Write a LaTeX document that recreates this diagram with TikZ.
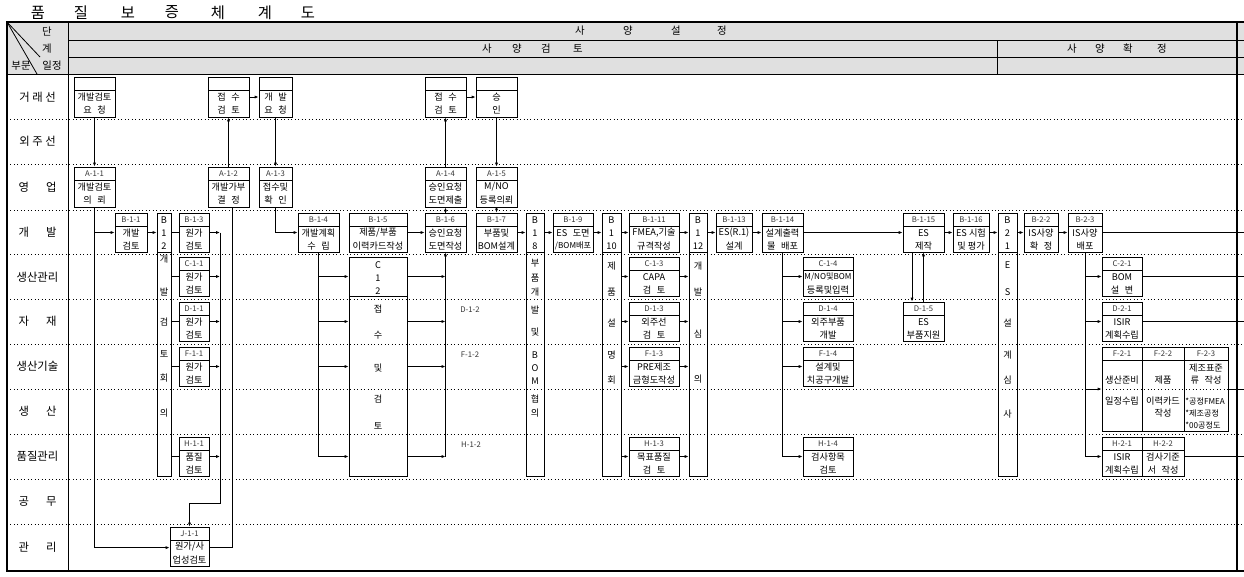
\documentclass[tikz,border=0pt]{standalone}
\usepackage{fontspec}
\setmainfont{Noto Sans CJK KR}
\usetikzlibrary{arrows.meta,fit,calc}
\newcommand\qgap{\hspace{0.6em}}
\newcommand\qsm{\fontsize{6.1}{6.5}\selectfont}
\tikzset{
 qbx/.style={draw, line width=0.6pt, inner sep=0pt},
 bt/.style={font=\fontsize{6.9}{7}\selectfont, inner sep=0pt},
 idt/.style={font=\fontsize{5.8}{6}\selectfont, inner sep=0pt, text=black!80},
 arr/.style={-{Latex[length=3pt,width=2.4pt]}, line width=0.6pt},
 ln/.style={line width=0.6pt},
 rowlab/.style={font=\fontsize{8.5}{9}\selectfont, inner sep=0pt},
 hl/.style={font=\fontsize{7.8}{8}\selectfont, inner sep=0pt},
 dotl/.style={dotted, line width=0.6pt}
}
\newcommand\qbox[8]{%
  \node[qbx, fit={(#2,#3) (#4,#5)}] (#1) {};
  \draw[ln] (#2,{#3+13}) -- (#4,{#3+13});
  \node[idt] (#1-id) at ({(#2+#4)/2},{#3+6.5}) {#6};
  \node[bt] (#1-a) at ({(#2+#4)/2},{#3+20}) {#7};
  \node[bt] (#1-b) at ({(#2+#4)/2},{#3+33}) {#8};
}
\begin{document}
\begin{tikzpicture}[x=0.75pt,y=-0.75pt]
\useasboundingbox (0,0) rectangle (1244,576);
% header
\fill[black!12] (7,22) rectangle (1244,74);
\draw[ln] (68,40) -- (1244,40);
\draw[ln] (68,57) -- (1244,57);
\draw[ln] (7,74) -- (1244,74);
\draw[ln] (997,40) -- (997,74);
\draw[ln] (68,22) -- (68,571);
\draw[ln] (7,22) -- (40,57);
\draw[ln] (7,22) -- (37,74);
\foreach \yy in {119,164,210,254,299,344,389,434,479,524}
  \draw[dotl] (7,\yy) -- (1244,\yy);
\draw[line width=2pt] (1244,22) -- (7,22) -- (7,571) -- (1244,571);
\draw[line width=1.2pt] (1237,22) -- (1237,571);
% title
\foreach \c/\xx [count=\i] in {품/38,질/81,보/128,증/172,체/218,계/265,도/308}
  \node[font=\fontsize{11.5}{12}\selectfont, inner sep=0pt] (title\i) at (\xx,12.5) {\c};
% header labels
\node[hl] (h-dan) at (47,31) {단};
\node[hl] (h-gye) at (47,49) {계};
\node[hl] (h-bm) at (21,66) {부문};
\node[hl] (h-ij) at (52,66) {일정};
\foreach \c/\xx [count=\i] in {사/580,양/628,설/676,정/722}
  \node[hl] (hs\i) at (\xx,31) {\c};
\foreach \c/\xx [count=\i] in {사/487,양/517,검/546,토/578}
  \node[hl] (hk\i) at (\xx,48.5) {\c};
\foreach \c/\xx [count=\i] in {사/1072,양/1100,확/1128,정/1162}
  \node[hl] (hh\i) at (\xx,48.5) {\c};
% row labels
\node[rowlab] (r1) at (37.5,97) {거 래 선};
\node[rowlab] (r2) at (37.5,141) {외 주 선};
\node[rowlab] (r3) at (37.5,187) {영\hspace{1.5em}업};
\node[rowlab] (r4) at (37.5,232) {개\hspace{1.5em}발};
\node[rowlab] (r5) at (37.5,277) {생산관리};
\node[rowlab] (r6) at (37.5,321) {자\hspace{1.5em}재};
\node[rowlab] (r7) at (37.5,366) {생산기술};
\node[rowlab] (r8) at (37.5,411) {생\hspace{1.5em}산};
\node[rowlab] (r9) at (37.5,456) {품질관리};
\node[rowlab] (r10) at (37.5,501) {공\hspace{1.5em}무};
\node[rowlab] (r11) at (37.5,547) {관\hspace{1.5em}리};
% customer row
\qbox{G1}{74}{77}{115}{117}{}{개발검토}{요\qgap 청}
\qbox{G2}{208}{77}{249}{117}{}{접\qgap 수}{검\qgap 토}
\qbox{G3}{259}{77}{292}{117}{}{개\qgap 발}{요\qgap 청}
\qbox{G4}{425}{77}{466}{117}{}{접\qgap 수}{검\qgap 토}
\qbox{G5}{476}{77}{517}{117}{}{승}{인}
% sales
\qbox{A11}{74}{167}{115}{207}{A-1-1}{개발검토}{의\qgap 뢰}
\qbox{A12}{208}{167}{249}{207}{A-1-2}{개발가부}{결\qgap 정}
\qbox{A13}{259}{167}{292}{207}{A-1-3}{접수및}{확\qgap 인}
\qbox{A14}{425}{167}{466}{207}{A-1-4}{승인요청}{도면제출}
\qbox{A15}{476}{167}{517}{207}{A-1-5}{M/NO}{등록의뢰}
% development
\qbox{B11}{115}{213}{147}{252}{B-1-1}{개발}{검토}
\qbox{B13}{179}{213}{209}{252}{B-1-3}{원가}{검토}
\qbox{B14}{298}{213}{339}{252}{B-1-4}{개발계획}{수\qgap 립}
\qbox{B15}{349}{213}{407}{252}{B-1-5}{제품/부품}{이력카드작성}
\qbox{B16}{425}{213}{466}{252}{B-1-6}{승인요청}{도면작성}
\qbox{B17}{476}{213}{517}{252}{B-1-7}{부품및}{BOM설계}
\qbox{B19}{553}{213}{593}{252}{B-1-9}{ES\qgap 도면}{\qsm /BOM배포}
\qbox{B111}{629}{213}{679}{252}{B-1-11}{FMEA,기술}{규격작성}
\qbox{B113}{716}{213}{752}{252}{B-1-13}{ES(R.1)}{설계}
\qbox{B114}{762}{213}{803}{252}{B-1-14}{설계출력}{물\qgap 배포}
\qbox{B115}{903}{213}{944}{252}{B-1-15}{ES}{제작}
\qbox{B116}{953}{213}{989}{252}{B-1-16}{ES 시험}{및 평가}
\qbox{B22}{1024}{213}{1058}{252}{B-2-2}{IS사양}{확\qgap 정}
\qbox{B23}{1068}{213}{1102}{252}{B-2-3}{IS사양}{배포}
% bars
\node[qbx, fit={(157,213) (171,476)}] (B12) {};
\draw[ln] (157,252) -- (171,252);
\foreach \t/\yy [count=\i] in {B/220,1/233,2/246,개/259,발/292,검/322,토/354,회/378,의/413}
  \node[bt] (B12-\i) at (164,\yy) {\t};
\node[qbx, fit={(526,213) (544,476)}] (B18) {};
\draw[ln] (526,252) -- (544,252);
\foreach \t/\yy [count=\i] in {B/220,1/233,8/246,부/263,품/278,개/292,발/310,및/332,B/355,O/368,M/381,협/399,의/413}
  \node[bt] (B18-\i) at (535,\yy) {\t};
\node[qbx, fit={(602,213) (621,476)}] (B110) {};
\draw[ln] (602,252) -- (621,252);
\foreach \t/\yy [count=\i] in {B/220,1/233,10/246,제/266,품/292,설/323,명/355,회/380}
  \node[bt] (B110-\i) at (611.5,\yy) {\t};
\node[qbx, fit={(689,213) (707,476)}] (B112) {};
\draw[ln] (689,252) -- (707,252);
\foreach \t/\yy [count=\i] in {B/220,1/233,12/246,개/266,발/292,심/334,의/379}
  \node[bt] (B112-\i) at (698,\yy) {\t};
\node[qbx, fit={(998,213) (1017,476)}] (B21) {};
\draw[ln] (998,252) -- (1017,252);
\foreach \t/\yy [count=\i] in {B/220,2/233,1/246,E/265,S/292,설/323,계/355,심/380,사/414}
  \node[bt] (B21-\i) at (1007.5,\yy) {\t};
\node[qbx, fit={(349,257) (407,476)}] (C12) {};
\draw[ln] (349,296) -- (407,296);
\foreach \t/\yy [count=\i] in {C/265,1/278,2/291,접/309,수/335,및/368,검/399,토/426}
  \node[bt] (C12-\i) at (378,\yy) {\t};
% production control
\qbox{C11}{179}{257}{209}{296}{C-1-1}{원가}{검토}
\qbox{C13}{629}{257}{679}{296}{C-1-3}{CAPA}{검\qgap 토}
\qbox{C14}{803}{257}{853}{296}{C-1-4}{\qsm M/NO및BOM}{등록및입력}
\qbox{C21}{1102}{257}{1142}{296}{C-2-1}{BOM}{설\qgap 변}
% materials
\qbox{D11}{179}{302}{209}{341}{D-1-1}{원가}{검토}
\qbox{D13}{629}{302}{679}{341}{D-1-3}{외주선}{검\qgap 토}
\qbox{D14}{803}{302}{853}{341}{D-1-4}{외주부품}{개발}
\qbox{D15}{903}{302}{944}{341}{D-1-5}{ES}{부품지원}
\qbox{D21}{1102}{302}{1142}{341}{D-2-1}{ISIR}{계획수립}
% production engineering
\qbox{F11}{179}{347}{209}{386}{F-1-1}{원가}{검토}
\qbox{F13}{629}{347}{679}{386}{F-1-3}{PRE제조}{금형도작성}
\qbox{F14}{803}{347}{853}{386}{F-1-4}{설계및}{치공구개발}
\node[qbx, fit={(1102,347) (1142,431)}] (F21) {};
\node[qbx, fit={(1142,347) (1184,431)}] (F22) {};
\node[qbx, fit={(1184,347) (1228,431)}] (F23) {};
\draw[ln] (1102,360) -- (1228,360);
\node[idt] (F21-id) at (1122,353.5) {F-2-1};
\node[idt] (F22-id) at (1163,353.5) {F-2-2};
\node[idt] (F23-id) at (1206,353.5) {F-2-3};
\node[bt] (F21-a) at (1122,380) {생산준비};
\node[bt] (F21-b) at (1122,401) {일정수립};
\node[bt] (F22-a) at (1163,380) {제품};
\node[bt] (F22-b) at (1163,401) {이력카드};
\node[bt] (F22-c) at (1163,413) {작성};
\node[bt] (F23-a) at (1206,368) {제조표준};
\node[bt] (F23-b) at (1206,380) {류\qgap 작성};
\node[bt, font=\qsm, anchor=west] (F23-c) at (1185,401) {*공정FMEA};
\node[bt, font=\qsm, anchor=west] (F23-d) at (1185,413) {*제조공정};
\node[bt, font=\qsm, anchor=west] (F23-e) at (1185,425) {*00공정도};
% quality
\qbox{H11}{179}{437}{209}{476}{H-1-1}{품질}{검토}
\qbox{H13}{629}{437}{679}{476}{H-1-3}{목표품질}{검\qgap 토}
\qbox{H14}{803}{437}{853}{476}{H-1-4}{검사항목}{검토}
\qbox{H21}{1102}{437}{1142}{476}{H-2-1}{ISIR}{계획수립}
\qbox{H22}{1142}{437}{1184}{476}{H-2-2}{검사기준}{서\qgap 작성}
% management
\qbox{J11}{170}{527}{209}{566}{J-1-1}{원가/사}{업성검토}
% floating labels
\node[idt] (l-D12) at (470,310) {D-1-2};
\node[idt] (l-F12) at (470,355) {F-1-2};
\node[idt] (l-H12) at (471,445) {H-1-2};
% coordinates
\coordinate (cx) at (220,0);
\coordinate (knee) at (220,503);
\coordinate (rend) at (1244,0);
% connectors
\draw[arr] (G1.south) -- (A11.north);
\draw[arr] (A12.north) -- (G2.south);
\draw[arr] (G2.east) -- (G3.west);
\draw[arr] (G3.south) -- (A13.north);
\draw[arr] (A14.north) -- (G4.south);
\draw[arr] (G4.east) -- (G5.west);
\draw[arr] (G5.south) -- (A15.north);
\draw[arr] (A11.south) |- ($(J11.north west)+(0,21)$);
\draw[arr] (A11.south |- B11.west) -- (B11.west);
\draw[ln] ($(J11.north east)+(0,21)$) -| ($(A12.south)+(3.5,0)$);
\draw[arr] (B11.east) -- (B11.east -| B12.west);
\foreach \n in {B13,C11,D11,F11,H11} {
  \draw[ln] (\n.west -| B12.east) -- (\n.west);
  \draw[arr] (\n.east) -- (\n.east -| cx);
}
\draw[arr] (cx |- B13.east) -- (knee) -| (J11.north);
\draw[arr] (A13.south) |- (B14.west);
\draw[ln] (B14.south) -- (B14.south |- H11.west);
\foreach \n in {C11,D11,F11,H11}
  \draw[arr] (B14.south |- \n.west) -- (C12.west |- \n.west);
\draw[arr] (B15.east) -- (B16.west);
\foreach \n in {C11,D11,F11,H11}
  \draw[arr] (C12.east |- \n.west) -- (B16.south |- \n.west);
\draw[arr] (B16.south |- H11.west) -- (B16.south);
\draw[arr] (B16.north) -- (A14.south);
\draw[arr] (A15.south) -- (B17.north);
\draw[arr] (B17.east) -- (B17.east -| B18.west);
\draw[arr] (B18.east |- B19.west) -- (B19.west);
\draw[arr] (B19.east) -- (B19.east -| B110.west);
\draw[arr] (B110.east |- B111.west) -- (B111.west);
\foreach \n in {C13,D13,F13,H13} {
  \draw[arr] (\n.west -| B110.east) -- (\n.west);
  \draw[arr] (\n.east) -- (\n.east -| B112.west);
}
\draw[arr] (B111.east) -- (B111.east -| B112.west);
\draw[arr] (B112.east |- B113.west) -- (B113.west);
\draw[arr] (B113.east) -- (B114.west);
\draw[arr] (B114.east) -- (B115.west);
\draw[ln] (B114.south) -- (B114.south |- H14.west);
\foreach \n in {C14,D14,F14,H14}
  \draw[arr] (B114.south |- \n.west) -- (\n.west);
\draw[arr] ($(B115.south)+(-11.5,0)$) -- ($(D15.north)+(-11.5,0)$);
\draw[arr] (D15.north) -- (B115.south);
\draw[arr] (B115.east) -- (B116.west);
\draw[arr] (B116.east) -- (B116.east -| B21.west);
\draw[arr] (B21.east |- B22.west) -- (B22.west);
\draw[arr] (B22.east) -- (B23.west);
\draw[ln] (B23.east) -- (B23.east -| rend);
\draw[ln] (B23.south) -- (B23.south |- H21.west);
\foreach \n in {C21,D21,F21,H21}
  \draw[arr] (B23.south |- \n.west) -- (\n.west);
\foreach \n in {C21,D21,F23,H22}
  \draw[ln] (\n.east) -- (\n.east -| rend);
\end{tikzpicture}
\end{document}
